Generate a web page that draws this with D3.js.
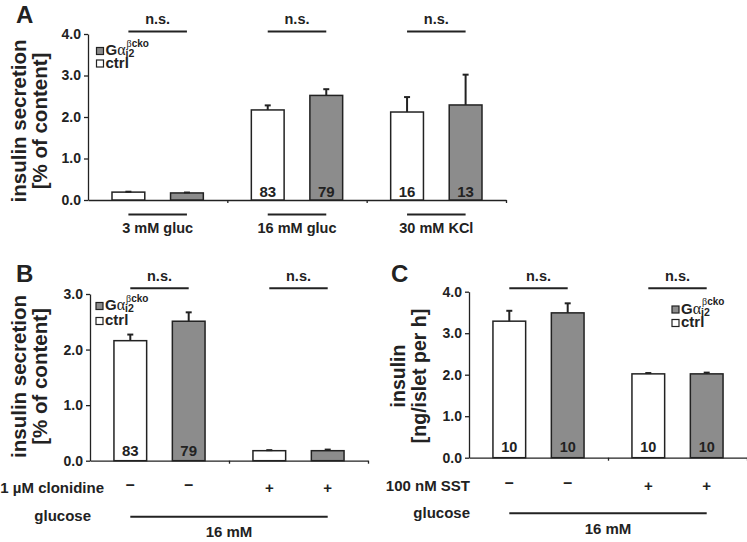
<!DOCTYPE html>
<html><head><meta charset="utf-8">
<script src="https://cdn.jsdelivr.net/npm/d3@7"></script>
<style>
body{margin:0;background:#fff}
svg{display:block}
text{font-family:"Liberation Sans",Arial,sans-serif;font-weight:bold;fill:#222}
</style>
</head><body>
<svg id="chart" width="747" height="542"></svg>
<script>
// ---------- data ----------
const seriesNames = ["ctrl", "cko"];

// Panel A: insulin secretion [% of content]
const groupsA = ["3 mM gluc", "16 mM gluc", "30 mM KCl"];
const ctrlA = [0.19, 2.17, 2.12];
const ctrlErrA = [0.01, 0.11, 0.36];
const ckoA = [0.17, 2.52, 2.29];
const ckoErrA = [0.01, 0.15, 0.73];
const nCtrlA = ["", "83", "16"];
const nCkoA = ["", "79", "13"];
const ticksA = [0, 1, 2, 3, 4];

// Panel B: 1 µM clonidine -, +
const groupsB = ["–", "+"];
const ctrlB = [2.16, 0.18];
const ctrlErrB = [0.11, 0.01];
const ckoB = [2.51, 0.18];
const ckoErrB = [0.16, 0.02];
const nCtrlB = ["83", ""];
const nCkoB = ["79", ""];
const ticksB = [0, 1, 2, 3];

// Panel C: 100 nM SST -, +
const groupsC = ["–", "+"];
const ctrlC = [3.29, 2.02];
const ctrlErrC = [0.25, 0.02];
const ckoC = [3.49, 2.02];
const ckoErrC = [0.23, 0.03];
const nCtrlC = ["10", "10"];
const nCkoC = ["10", "10"];
const ticksC = [0, 1, 2, 3, 4];

const sigLabel = "n.s.";

// ---------- drawing ----------
const svg = d3.select("#chart");
const INK = "#222";
const GREY = "#8c8c8c";
const fmt = d3.format(".1f");

function drawPanel(cfg) {
  const g = svg.append("g");
  const n = cfg.groups.length;
  const xl = d3.scaleLinear().domain([0, n]).range([cfg.x0, cfg.x1]);
  const xb = d3.scaleBand().domain(d3.range(n)).range([cfg.x0, cfg.x1]).padding(0);
  const xs = d3.scaleBand().domain(seriesNames).range([0, xb.bandwidth()])
    .paddingInner(0.44).paddingOuter(0.41);
  const y = d3.scaleLinear().domain([0, cfg.ymax]).range([cfg.yBase, cfg.yTop]);

  const rows = [];
  cfg.groups.forEach((grp, i) => {
    rows.push({i, s: "ctrl", v: cfg.ctrl[i], e: cfg.ctrlErr[i], n: cfg.nCtrl[i]});
    rows.push({i, s: "cko", v: cfg.cko[i], e: cfg.ckoErr[i], n: cfg.nCko[i]});
  });
  const cx = d => xb(d.i) + xs(d.s) + xs.bandwidth() / 2;

  // y axis
  const ya = g.append("g").attr("transform", `translate(${cfg.x0},0)`)
    .call(d3.axisLeft(y).tickValues(cfg.ticks).tickFormat(fmt).tickSize(4).tickSizeOuter(0).tickPadding(3));
  ya.selectAll("path,line").attr("stroke", INK).attr("stroke-width", 1.3);
  ya.selectAll("text").attr("font-size", 14).attr("fill", INK)
    .style("font-family", '"Liberation Sans",Arial,sans-serif').style("font-weight", "bold");

  // x axis (ticks at group boundaries)
  const xa = g.append("g").attr("transform", `translate(0,${cfg.yBase})`)
    .call(d3.axisBottom(xl).tickValues(d3.range(1, n + 1)).tickFormat("").tickSize(3).tickSizeOuter(0));
  xa.selectAll("path,line").attr("stroke", INK).attr("stroke-width", 1.3);

  // bars
  g.selectAll("rect.bar").data(rows).join("rect").attr("class", "bar")
    .attr("x", d => xb(d.i) + xs(d.s))
    .attr("width", xs.bandwidth())
    .attr("y", d => y(d.v))
    .attr("height", d => y(0) - y(d.v))
    .attr("fill", d => d.s === "ctrl" ? "#fff" : GREY)
    .attr("stroke", INK).attr("stroke-width", 1.5);

  // error bars
  const eb = g.selectAll("g.err").data(rows).join("g").attr("class", "err");
  eb.append("line").attr("x1", cx).attr("x2", cx)
    .attr("y1", d => y(d.v)).attr("y2", d => y(d.v + d.e))
    .attr("stroke", INK).attr("stroke-width", 2);
  eb.append("line").attr("x1", d => cx(d) - 3).attr("x2", d => cx(d) + 3)
    .attr("y1", d => y(d.v + d.e)).attr("y2", d => y(d.v + d.e))
    .attr("stroke", INK).attr("stroke-width", 2);

  // n labels
  g.selectAll("text.n").data(rows.filter(d => d.n)).join("text").attr("class", "n")
    .attr("x", cx).attr("y", y(0) - cfg.nOff)
    .attr("text-anchor", "middle").attr("font-size", cfg.nSize).attr("fill", "#333")
    .text(d => d.n);

  // significance
  cfg.groups.forEach((grp, i) => {
    const a = cx({i, s: "ctrl"}), b = cx({i, s: "cko"});
    g.append("line").attr("x1", a).attr("x2", b).attr("y1", cfg.sigY).attr("y2", cfg.sigY)
      .attr("stroke", INK).attr("stroke-width", 2);
    g.append("text").attr("x", (a + b) / 2).attr("y", cfg.sigY - 7.5)
      .attr("text-anchor", "middle").attr("font-size", 14.5).text(sigLabel);
  });

  // y title
  const tx = cfg.titleX;
  cfg.title.forEach((t, k) => {
    g.append("text")
      .attr("transform", `translate(${tx[k]},${cfg.titleY}) rotate(-90)`)
      .attr("text-anchor", "middle").attr("dy", "0.36em")
      .attr("font-size", cfg.titleSize).text(t);
  });

  // panel letter
  g.append("text").attr("x", cfg.letterX).attr("y", cfg.letterY)
    .attr("font-size", 24).text(cfg.letter);

  // legend
  const L = cfg.legend;
  const items = [{s: "cko", y: L.y}, {s: "ctrl", y: L.y + L.gap}];
  items.forEach(it => {
    g.append("rect").attr("x", L.x).attr("y", it.y - 7.5).attr("width", 7).attr("height", 7)
      .attr("fill", it.s === "ctrl" ? "#fff" : GREY).attr("stroke", INK).attr("stroke-width", 1.2);
  });
  const gt = g.append("text").attr("x", L.x + 9).attr("y", L.y).attr("font-size", 15);
  gt.append("tspan").text("G");
  gt.append("tspan").style("font-family", '"Liberation Serif","DejaVu Serif",serif')
    .style("font-weight", "normal").attr("font-size", 16).text("α");
  const w = gt.node().getComputedTextLength();
  g.append("text").attr("x", L.x + 10 + w).attr("y", L.y - 8.5).attr("font-size", 10)
    .html('<tspan style="font-family:\'Liberation Serif\',serif;font-weight:normal">β</tspan>cko');
  g.append("text").attr("x", L.x + 9 + w).attr("y", L.y + 2).attr("font-size", 10.5).text("i2");
  g.append("text").attr("x", L.x + 9).attr("y", L.y + L.gap).attr("font-size", 15).text("ctrl");

  return {cx, y, xb};
}

// ---- Panel A ----
const pA = drawPanel({
  groups: groupsA, ctrl: ctrlA, ctrlErr: ctrlErrA, cko: ckoA, ckoErr: ckoErrA,
  nCtrl: nCtrlA, nCko: nCkoA, ticks: ticksA, ymax: 4,
  x0: 88, x1: 506, yBase: 200, yTop: 34, sigY: 31.5, nOff: 3.5, nSize: 15,
  title: ["insulin secretion", "[% of content]"], titleX: [18.5, 39.5], titleY: 121, titleSize: 20.5,
  letter: "A", letterX: 16, letterY: 23,
  legend: {x: 96.5, y: 55, gap: 12.5}
});
groupsA.forEach((lab, i) => {
  const a = pA.cx({i, s: "ctrl"}), b = pA.cx({i, s: "cko"});
  svg.append("line").attr("x1", a).attr("x2", b).attr("y1", 214.5).attr("y2", 214.5)
    .attr("stroke", INK).attr("stroke-width", 2);
  svg.append("text").attr("x", (a + b) / 2).attr("y", 233).attr("text-anchor", "middle")
    .attr("font-size", 14.5).text(lab);
});

// ---- Panel B ----
const pB = drawPanel({
  groups: groupsB, ctrl: ctrlB, ctrlErr: ctrlErrB, cko: ckoB, ckoErr: ckoErrB,
  nCtrl: nCtrlB, nCko: nCkoB, ticks: ticksB, ymax: 3,
  x0: 90, x1: 368, yBase: 460.7, yTop: 294, sigY: 288.3, nOff: 4.5, nSize: 15,
  title: ["insulin secretion", "[% of content]"], titleX: [18.5, 39.5], titleY: 376.5, titleSize: 20.5,
  letter: "B", letterX: 16, letterY: 282,
  legend: {x: 96, y: 310, gap: 15}
});

// ---- Panel C ----
const pC = drawPanel({
  groups: groupsC, ctrl: ctrlC, ctrlErr: ctrlErrC, cko: ckoC, ckoErr: ckoErrC,
  nCtrl: nCtrlC, nCko: nCkoC, ticks: ticksC, ymax: 4,
  x0: 469, x1: 747, yBase: 457.7, yTop: 291.7, sigY: 288.3, nOff: 5.5, nSize: 14.5,
  title: ["insulin", "[ng/islet per h]"], titleX: [398, 418.5], titleY: 376, titleSize: 19.5,
  letter: "C", letterX: 391, letterY: 282,
  legend: {x: 672, y: 313.5, gap: 13.5}
});

// treatment rows for B and C
function treatmentRows(p, groups, treatLabel, treatRight, treatY, glucRight, glucY, lineY, mmY) {
  svg.append("text").attr("x", treatRight).attr("y", treatY).attr("text-anchor", "end")
    .attr("font-size", 15).text(treatLabel);
  groups.forEach((lab, i) => {
    seriesNames.forEach(s => {
      const isMinus = lab === "–";
      svg.append("text").attr("x", p.cx({i, s})).attr("y", isMinus ? treatY - 3 : treatY)
        .attr("text-anchor", "middle").attr("font-size", isMinus ? 16 : 15).text(lab);
    });
  });
  svg.append("text").attr("x", glucRight).attr("y", glucY).attr("text-anchor", "end")
    .attr("font-size", 15).text("glucose");
  const a = p.cx({i: 0, s: "ctrl"}), b = p.cx({i: groups.length - 1, s: "cko"});
  svg.append("line").attr("x1", a).attr("x2", b).attr("y1", lineY).attr("y2", lineY)
    .attr("stroke", INK).attr("stroke-width", 2);
  svg.append("text").attr("x", (a + b) / 2).attr("y", mmY).attr("text-anchor", "middle")
    .attr("font-size", 15).text("16 mM");
}
treatmentRows(pB, groupsB, "1 µM clonidine", 104, 493, 91, 521, 516.7, 537);
treatmentRows(pC, groupsC, "100 nM SST", 470, 491, 470, 518, 513.3, 533.5);
</script>
</body></html>
